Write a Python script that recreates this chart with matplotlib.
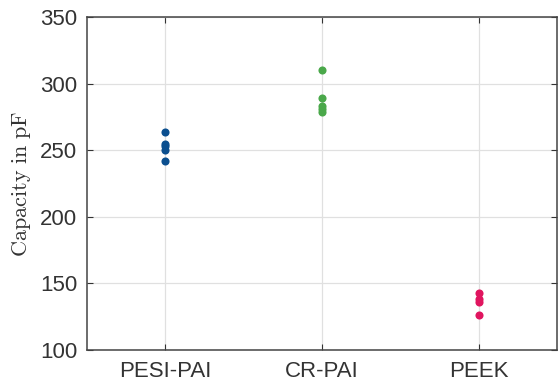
import matplotlib
matplotlib.use("Agg")
import matplotlib.pyplot as plt

categories = ["PESI-PAI", "CR-PAI", "PEEK"]
pesi_pai = [264, 255, 253, 250, 242]
cr_pai = [310, 289, 283, 281, 279]
peek = [143, 138, 136, 126]
series = [pesi_pai, cr_pai, peek]
colors = ["#0b4f8f", "#4aa84a", "#e0155f"]
yticks = [100, 150, 200, 250, 300, 350]

plt.rcParams["mathtext.fontset"] = "cm"
fig = plt.figure(figsize=(5.59, 3.88), dpi=100)
ax = fig.add_axes([0.1556, 0.098, 0.8408, 0.858])

for i, (vals, c) in enumerate(zip(series, colors)):
    ax.scatter([i + 1] * len(vals), vals, s=34, color=c, zorder=3, linewidths=0)

ax.set_xlim(0.5, 3.5)
ax.set_ylim(100, 350)
ax.set_xticks([1, 2, 3])
ax.set_xticklabels(categories)
ax.set_yticks(yticks)
ax.grid(True, color="#e0e0e0", linewidth=0.9)
ax.set_axisbelow(True)
ax.tick_params(direction="in", length=4, width=0.8, color="#333333",
               labelsize=16, labelcolor="#333333", top=True, right=True,
               labeltop=False, labelright=False)
ax.tick_params(axis="y", pad=7)
ax.tick_params(axis="x", pad=8)
for lab in ax.get_xticklabels() + ax.get_yticklabels():
    lab.set_fontfamily("Liberation Sans")
for sp in ax.spines.values():
    sp.set_color("#444444")
    sp.set_linewidth(1.1)
ax.set_ylabel(r"$\mathrm{Capacity\ in\ pF}$", fontsize=16, color="#333333", labelpad=5)

fig.savefig("out.png", dpi=100)
